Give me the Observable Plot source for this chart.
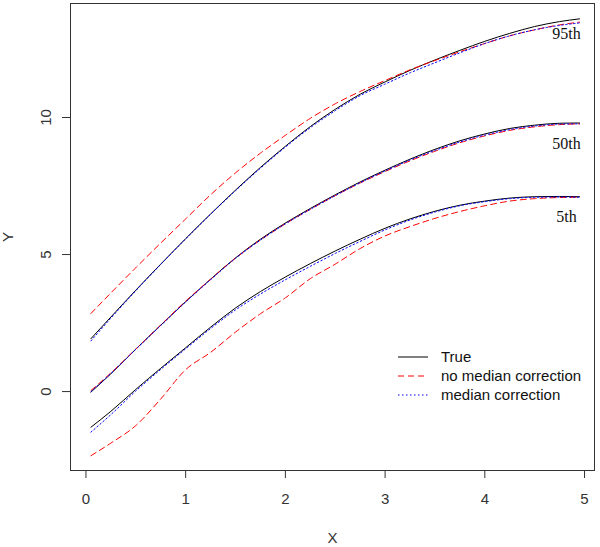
<!DOCTYPE html>
<html>
<head>
<meta charset="utf-8">
<script src="https://cdn.jsdelivr.net/npm/d3@7"></script>
<script src="https://cdn.jsdelivr.net/npm/@observablehq/plot@0.6"></script>
<style>
  html, body { margin: 0; padding: 0; background: #fff; }
  #wrap { position: relative; width: 600px; height: 547px; }
  #legend { position: absolute; left: 396px; top: 347px; font-family: "Liberation Sans", Arial, sans-serif; font-size: 15px; color: #111; }
  #legend .row { display: flex; align-items: center; height: 19px; line-height: 19px; }
  #legend svg { display: block; }
</style>
</head>
<body>
<div id="wrap"><div id="legend"></div></div>
<script>
// ---- data ----
const xs = [0.05, 0.25, 0.5, 0.75, 1.0, 1.25, 1.5, 1.75, 2.0, 2.25, 2.5, 2.75, 3.0, 3.25, 3.5, 3.75, 4.0, 4.25, 4.5, 4.75, 4.95];

const true95    = [1.93, 2.72, 3.70, 4.65, 5.58, 6.48, 7.35, 8.18, 8.95, 9.67, 10.30, 10.85, 11.30, 11.72, 12.10, 12.45, 12.78, 13.07, 13.32, 13.50, 13.60];
const noCorr95  = [2.85, 3.60, 4.52, 5.42, 6.30, 7.18, 7.98, 8.70, 9.35, 9.97, 10.50, 10.95, 11.35, 11.74, 12.08, 12.40, 12.70, 12.98, 13.20, 13.38, 13.48];
const corr95    = [1.85, 2.68, 3.68, 4.64, 5.57, 6.47, 7.33, 8.15, 8.92, 9.63, 10.25, 10.80, 11.22, 11.63, 12.00, 12.36, 12.70, 12.98, 13.20, 13.36, 13.45];

const true50    = [-0.02, 0.65, 1.55, 2.42, 3.28, 4.10, 4.88, 5.56, 6.15, 6.68, 7.18, 7.65, 8.08, 8.48, 8.84, 9.15, 9.40, 9.60, 9.72, 9.79, 9.80];
const noCorr50  = [0.04, 0.68, 1.55, 2.43, 3.30, 4.10, 4.87, 5.53, 6.12, 6.65, 7.15, 7.61, 8.03, 8.42, 8.77, 9.08, 9.33, 9.53, 9.66, 9.74, 9.77];
const corr50    = [0.00, 0.66, 1.54, 2.41, 3.27, 4.08, 4.86, 5.53, 6.12, 6.65, 7.15, 7.62, 8.05, 8.45, 8.80, 9.11, 9.36, 9.56, 9.69, 9.76, 9.77];

const true5     = [-1.30, -0.72, 0.08, 0.85, 1.60, 2.35, 3.05, 3.65, 4.18, 4.67, 5.13, 5.56, 5.96, 6.30, 6.58, 6.80, 6.95, 7.06, 7.11, 7.12, 7.11];
const noCorr5   = [-2.34, -1.88, -1.24, -0.27, 0.80, 1.43, 2.17, 2.84, 3.42, 4.12, 4.65, 5.22, 5.68, 6.02, 6.32, 6.57, 6.78, 6.95, 7.04, 7.08, 7.09];
const corr5     = [-1.48, -0.84, 0.02, 0.81, 1.56, 2.30, 2.98, 3.56, 4.08, 4.57, 5.04, 5.48, 5.90, 6.26, 6.55, 6.78, 6.93, 7.04, 7.09, 7.10, 7.09];

const methods = ["True", "no median correction", "median correction"];
const quantileNames = ["95th", "50th", "5th"];
const quantileLabelX = [4.82, 4.82, 4.82];
const quantileLabelY = [13.05, 9.04, 6.36];

const xTicks = [0, 1, 2, 3, 4, 5];
const yTicks = [0, 5, 10];

// ---- styles ----
const methodStyle = {
  "True": {stroke: "#000000", dash: "none"},
  "no median correction": {stroke: "#ff0000", dash: "6,4"},
  "median correction": {stroke: "#0000ff", dash: "1.5,2.5"}
};

const seriesList = [
  {method: "True", values: true95}, {method: "True", values: true50}, {method: "True", values: true5},
  {method: "no median correction", values: noCorr95}, {method: "no median correction", values: noCorr50}, {method: "no median correction", values: noCorr5},
  {method: "median correction", values: corr95}, {method: "median correction", values: corr50}, {method: "median correction", values: corr5}
];

const lineMarks = seriesList.map(s => {
  const st = methodStyle[s.method];
  const rows = xs.map((x, i) => ({x, y: s.values[i]}));
  return Plot.line(rows, {x: "x", y: "y", stroke: st.stroke, strokeWidth: 1, strokeDasharray: st.dash === "none" ? undefined : st.dash, curve: "monotone-x"});
});

const labelRows = quantileNames.map((t, i) => ({text: t, x: quantileLabelX[i], y: quantileLabelY[i]}));

const chart = Plot.plot({
  width: 600,
  height: 547,
  marginLeft: 70,
  marginRight: 6,
  marginTop: 3,
  marginBottom: 77,
  x: {domain: [-0.155, 5.1]},
  y: {domain: [-2.88, 14.16]},
  style: {fontFamily: "'Liberation Sans', Arial, sans-serif", fontSize: "15px", color: "#333", background: "#fff"},
  marks: [
    Plot.axisX({ticks: xTicks, tickSize: 8, tickPadding: 15, tickFormat: d => String(d), label: "X", labelAnchor: "center", labelArrow: "none", labelOffset: 72}),
    Plot.axisY({ticks: yTicks, tickSize: 8, tickPadding: 12, tickRotate: -90, tickFormat: d => String(d), label: "Y", labelAnchor: "center", labelArrow: "none", labelOffset: 68}),
    ...lineMarks,
    Plot.text(labelRows, {x: "x", y: "y", text: "text", fontFamily: "'Liberation Serif', 'Times New Roman', serif", fontSize: 16, fill: "#111"}),
    Plot.frame({stroke: "#333"})
  ]
});
document.getElementById("wrap").prepend(chart);

// ---- legend ----
const legend = document.getElementById("legend");
const NS = "http://www.w3.org/2000/svg";
methods.forEach(m => {
  const st = methodStyle[m];
  const row = document.createElement("div");
  row.className = "row";
  const svg = document.createElementNS(NS, "svg");
  svg.setAttribute("width", "45");
  svg.setAttribute("height", "19");
  const ln = document.createElementNS(NS, "line");
  ln.setAttribute("x1", "2"); ln.setAttribute("x2", "32");
  ln.setAttribute("y1", "10"); ln.setAttribute("y2", "10");
  ln.setAttribute("stroke", st.stroke);
  ln.setAttribute("stroke-width", "1");
  if (st.dash !== "none") ln.setAttribute("stroke-dasharray", st.dash);
  svg.appendChild(ln);
  const span = document.createElement("span");
  span.textContent = m;
  row.appendChild(svg);
  row.appendChild(span);
  legend.appendChild(row);
});
</script>
</body>
</html>
